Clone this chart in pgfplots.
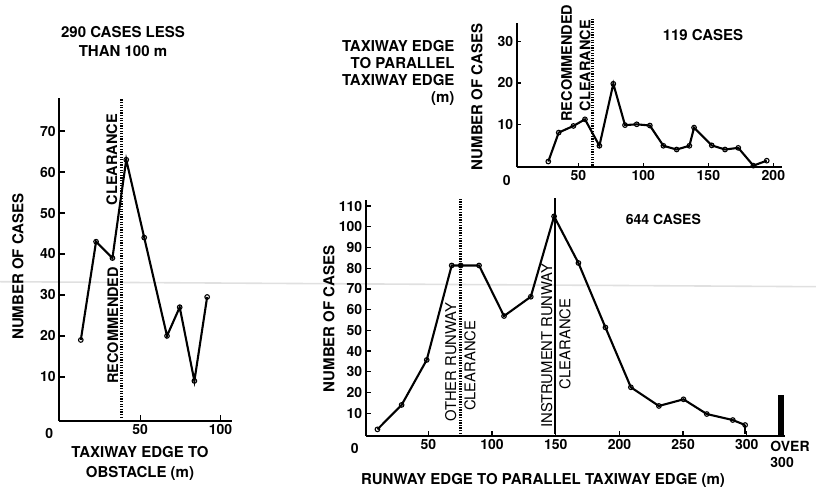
\documentclass[border=0pt]{standalone}
\usepackage{fontspec}
\setmainfont{TeX Gyre Heros}
\usepackage{pgfplots}
\pgfplotsset{compat=1.18}
\begin{document}
\begin{tikzpicture}
\path[use as bounding box] (0pt,0pt) rectangle (816pt,489pt);
\draw[black!12, line width=1.6pt] (0pt,207.3pt) -- (816pt,202.3pt);
\pgfplotsset{
 every axis/.append style={
  scale only axis,
  axis lines=left,
  axis line style={-, line width=2.2pt},
  tick style={line width=1.3pt, black},
  tick align=inside,
  major tick length=6pt,
  font=\fontsize{14}{16}\selectfont\bfseries,
  /pgf/number format/assume math mode=true,
  clip=false,
  anchor=south west,
 },
 dat/.style={black, line width=2.1pt, mark=o, mark size=2.3pt, mark options={line width=1.1pt}},
}
\tikzset{
 dots/.style={black, line width=2.6pt, dash pattern=on 1.3pt off 1.3pt},
 lab/.style={rotate=90, font=\fontsize{14.5}{16}\selectfont\bfseries},
 labr/.style={rotate=90, font=\fontsize{14.8}{16}\selectfont},
}
% ---------------- left chart
\begin{axis}[at={(59.3pt,68.3pt)}, width=172.4pt, height=322.4pt,
  xmin=-0.4, xmax=107, ymin=-0.7, ymax=78,
  xtick={50,100}, ytick={10,20,...,70}]
\addplot[dots, forget plot] coordinates {(38.5,0) (38.5,78)};
\addplot[dat] coordinates {(13,19) (22.5,43) (32.7,39) (41.3,63) (52.5,44) (66.7,20) (74.6,27) (83.75,9) (91.7,29.5)};
\node[lab] at (axis cs:32.3,63) {CLEARANCE};
\node[lab] at (axis cs:32.9,22.6) {RECOMMENDED};
\node at (axis cs:-0.4,-0.7) [xshift=-10pt, yshift=-13pt] {0};
\end{axis}
% ---------------- top right chart
\begin{axis}[at={(516.7pt,321.7pt)}, width=265pt, height=144.7pt,
  xmin=2.6, xmax=206.4, ymin=-0.4, ymax=34.6,
  xtick={50,100,150,200}, ytick={10,20,30}, major tick length=4pt]
\addplot[dots, forget plot] coordinates {(61,0) (61,35.6)};
\addplot[dat] coordinates {(26.9,1) (34.9,8) (46.2,9.6) (55.1,11.2) (66.2,4.8) (76.9,19.8) (85.9,9.8) (94.9,10) (105,9.7) (115.4,4.8) (125.6,3.9) (135.4,4.8) (139,9.2) (152.6,4.9) (162.8,3.9) (173,4.3) (184.6,0) (194.9,1.2)};
\node[lab] at (axis cs:41,24.8) {RECOMMENDED};
\node[lab] at (axis cs:55.1,24.2) {CLEARANCE};
\node at (axis cs:2.6,-0.4) [xshift=-10pt, yshift=-13pt] {0};
\end{axis}
% ---------------- bottom right chart
\begin{axis}[at={(365.7pt,53pt)}, width=419.3pt, height=236pt,
  xmin=0.8, xmax=330, ymin=-1, ymax=112.9,
  xtick={50,100,150,200,250,300}, ytick={10,20,...,110}, major tick length=5pt]
\addplot[dots, forget plot] coordinates {(75.4,0) (75.4,114)};
\addplot[black, line width=2pt, forget plot] coordinates {(149.5,0) (149.5,114)};
\addplot[dat] coordinates {(10,2.2) (29,14) (48.7,35.7) (68.3,81.3) (75.4,81.3) (89.8,81.3) (109.4,56.9) (130.4,66.2) (148.7,105) (167.8,82.5) (189,51.4) (209,22.5) (231,13.5) (250.3,16.7) (268.6,9.6) (289,6.7) (298.7,4.3)};
\addplot[black, line width=2.1pt, forget plot] coordinates {(298.7,4.3) (298.7,0)};
\addplot[ybar, bar width=5.5pt, fill=black, draw=black] coordinates {(326.6,18.8)};
\node[labr] at (axis cs:67.5,34.5) {OTHER RUNWAY};
\node[labr] at (axis cs:82.7,32.9) {CLEARANCE};
\node[labr] at (axis cs:143,42.5) {INSTRUMENT RUNWAY};
\node[labr] at (axis cs:157.3,43.4) {CLEARANCE};
\node at (axis cs:0.8,-1) [xshift=-11pt, yshift=-12pt] {0};
\node[align=left, anchor=north west, inner sep=0pt] at (axis cs:318.4,-1) [yshift=-5pt] {OVER\\300};
\node at (axis cs:234.5,103.5) {644 CASES};
\end{axis}
% ---------------- free texts
\begin{scope}[font=\fontsize{15}{17}\selectfont\bfseries]
\node[align=center] at (123pt,447.5pt) {290 CASES LESS\\[2pt]THAN 100 m};
\node[align=center] at (140pt,25.5pt) {TAXIWAY EDGE TO\\[3pt]OBSTACLE (m)};
\node[rotate=90] at (18pt,222.3pt) {NUMBER OF CASES};
\node[rotate=90] at (477pt,392pt) {NUMBER OF CASES};
\node[rotate=90] at (329pt,170pt) {NUMBER OF CASES};
\node[align=right, anchor=east] at (458pt,416.5pt) {TAXIWAY EDGE\\TO PARALLEL\\TAXIWAY EDGE\\(m)};
\node at (703pt,454pt) {119 CASES};
\node at (543pt,9pt) {RUNWAY EDGE TO PARALLEL TAXIWAY EDGE (m)};
\end{scope}
\end{tikzpicture}
\end{document}
